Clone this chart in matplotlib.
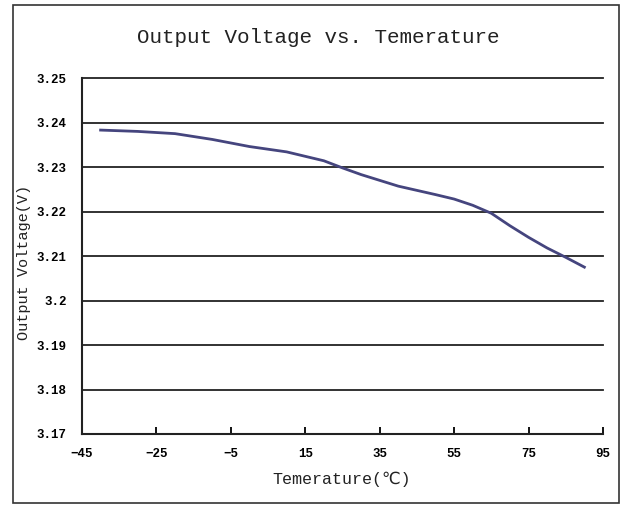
import matplotlib
matplotlib.use("Agg")
import matplotlib.pyplot as plt
from matplotlib.patches import Rectangle

# Data
temps = [-40, -30, -20, -10, 0, 10, 20, 25, 30, 40, 50, 55, 60, 65, 70, 75, 80, 85, 90]
volts = [3.2383, 3.2380, 3.2375, 3.2362, 3.2346, 3.2334, 3.2314, 3.2298, 3.2283, 3.2257, 3.2238, 3.2228, 3.2214, 3.2196, 3.2168, 3.2142, 3.2118, 3.2097, 3.2075]
x_ticks = [-45, -25, -5, 15, 35, 55, 75, 95]
y_ticks = [3.17, 3.18, 3.19, 3.20, 3.21, 3.22, 3.23, 3.24, 3.25]
y_tick_labels = ["3.17", "3.18", "3.19", "3.2", "3.21", "3.22", "3.23", "3.24", "3.25"]

fonts = ["Liberation Mono", "DejaVu Sans"]
plt.rcParams["font.family"] = fonts

fig = plt.figure(figsize=(6.24, 5.05), dpi=100)
ax = fig.add_axes([0.1314, 0.1406, 0.8349, 0.7049])

# outer frame
fig.patches.append(Rectangle((13 / 624, 2 / 505), 606 / 624, 498 / 505,
                             transform=fig.transFigure, fill=False,
                             edgecolor="#333333", linewidth=1.2))

ax.set_xlim(-45, 95)
ax.set_ylim(3.17, 3.25)
ax.set_yticks(y_ticks)
ax.set_yticklabels(y_tick_labels)
ax.set_xticks(x_ticks)

for y in y_ticks[1:]:
    ax.axhline(y, color="#222222", linewidth=1.3, zorder=1, clip_on=False)

ax.plot(temps, volts, color="#45457e", linewidth=2, zorder=3)

for s in ["top", "right"]:
    ax.spines[s].set_visible(False)
for s in ["left", "bottom"]:
    ax.spines[s].set_linewidth(1.5)
    ax.spines[s].set_color("#222222")

ax.tick_params(axis="x", direction="in", length=5, width=1.3, pad=10, labelsize=9)
ax.tick_params(axis="y", length=0, pad=11, labelsize=9)
for lab in ax.get_xticklabels() + ax.get_yticklabels():
    lab.set_fontweight("bold")

fig.text(0.51, 0.925, "Output Voltage vs. Temerature", ha="center", va="center",
         fontsize=15, family=fonts, color="#222222")
fig.text(0.547, 0.05, "Temerature(℃)", ha="center", va="center",
         fontsize=12, family=fonts, color="#222222")
fig.text(0.039, 0.48, "Output Voltage(V)", ha="center", va="center",
         rotation=90, fontsize=11, family=fonts, color="#222222")

fig.savefig("out.png", dpi=100)
